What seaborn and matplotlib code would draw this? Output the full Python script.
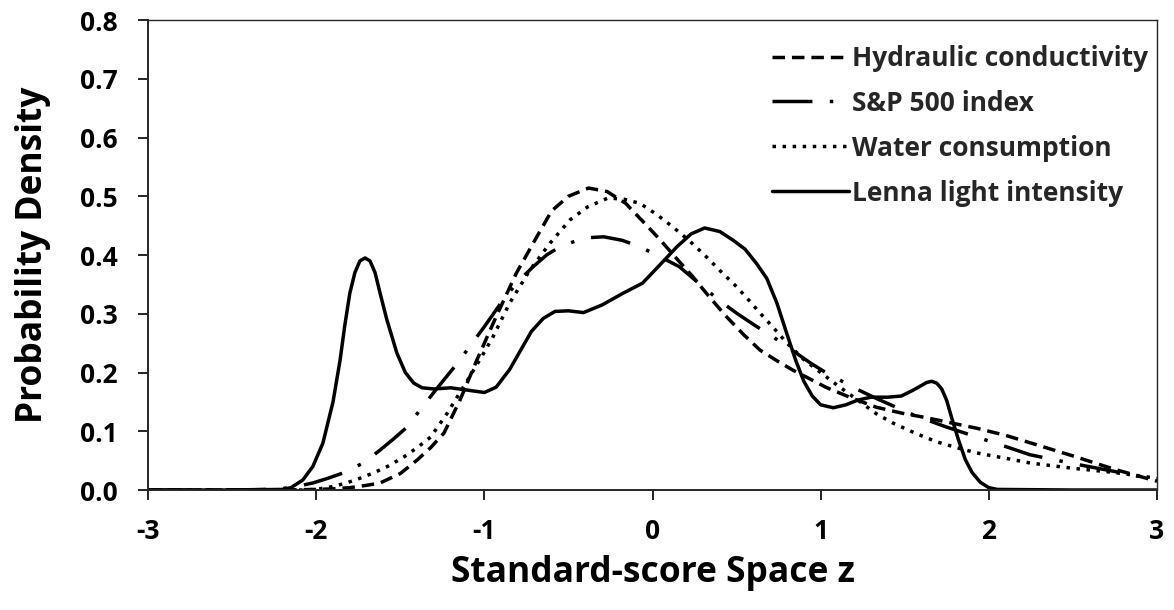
import matplotlib
matplotlib.use("Agg")
import matplotlib.pyplot as plt
import seaborn as sns
import pandas as pd

# ---------------- data ----------------
hyd_z = [-3.0, -2.5, -2.2, -2.0, -1.9, -1.8, -1.7, -1.62, -1.5, -1.4, -1.32, -1.24, -1.145,
         -1.045, -0.93, -0.81, -0.69, -0.6, -0.5, -0.38, -0.27, -0.16, -0.05, 0.045, 0.14,
         0.24, 0.34, 0.44, 0.54, 0.64, 0.74, 0.835, 0.93, 1.03, 1.18, 1.33, 1.48, 1.63,
         1.78, 1.93, 2.1, 2.25, 2.5, 2.75, 3.0]
hyd_p = [0.0, 0.0, 0.0, 0.001, 0.002, 0.004, 0.008, 0.012, 0.028, 0.051, 0.072, 0.097, 0.153,
         0.221, 0.295, 0.369, 0.43, 0.475, 0.5, 0.514, 0.508, 0.488, 0.455, 0.426, 0.395,
         0.363, 0.328, 0.295, 0.265, 0.238, 0.22, 0.204, 0.19, 0.175, 0.157, 0.141, 0.131, 0.123,
         0.114, 0.105, 0.093, 0.08, 0.058, 0.035, 0.015]

sp_z = [-3.0, -2.5, -2.3, -2.21, -2.1, -2.02, -1.93, -1.84, -1.72, -1.62, -1.54, -1.46, -1.383,
        -1.29, -1.16, -1.0, -0.89, -0.8, -0.71, -0.63, -0.55, -0.41, -0.29, -0.18, -0.075,
        0.045, 0.16, 0.3, 0.4, 0.5, 0.61, 0.72, 0.83, 0.94, 1.03, 1.115, 1.22, 1.33, 1.44,
        1.55, 1.74, 1.93, 2.1, 2.245, 2.5, 2.74, 3.0]
sp_p = [0.0, 0.0, 0.001, 0.002, 0.007, 0.012, 0.02, 0.029, 0.046, 0.068, 0.087, 0.107, 0.136,
        0.17, 0.216, 0.278, 0.323, 0.355, 0.38, 0.4, 0.414, 0.429, 0.431, 0.425, 0.414,
        0.397, 0.38, 0.346, 0.322, 0.301, 0.28, 0.26, 0.238, 0.216, 0.2, 0.187, 0.171, 0.156, 0.142,
        0.128, 0.108, 0.09, 0.074, 0.06, 0.045, 0.032, 0.017]

wat_z = [-3.0, -2.5, -2.1, -2.0, -1.9, -1.82, -1.74, -1.66, -1.57, -1.48, -1.4, -1.32, -1.22,
         -1.1, -1.02, -0.95, -0.85, -0.73, -0.61, -0.49, -0.385, -0.265, -0.17, -0.075, 0.02,
         0.12, 0.22, 0.32, 0.41, 0.5, 0.57, 0.64, 0.72, 0.8, 0.9, 1.0, 1.1, 1.235, 1.33, 1.43,
         1.56, 1.69, 1.81, 1.93, 2.1, 2.245, 2.5, 2.74, 3.0]
wat_p = [0.0, 0.0, 0.0, 0.001, 0.006, 0.012, 0.02, 0.029, 0.041, 0.056, 0.072, 0.09, 0.131,
         0.187, 0.225, 0.26, 0.318, 0.374, 0.42, 0.46, 0.482, 0.497, 0.495, 0.488, 0.47,
         0.448, 0.424, 0.397, 0.371, 0.346, 0.324, 0.301, 0.276, 0.25, 0.222, 0.2, 0.178, 0.15, 0.13, 0.114,
         0.097, 0.082, 0.072, 0.063, 0.054, 0.046, 0.037, 0.03, 0.02]

len_z = [-3.0, -2.5, -2.2, -2.15, -2.08, -2.02, -1.96, -1.9, -1.858, -1.83, -1.8, -1.77, -1.74,
         -1.71, -1.68, -1.65, -1.62, -1.58, -1.52, -1.47, -1.42, -1.37, -1.3, -1.2, -1.1, -1.0,
         -0.93, -0.85, -0.78, -0.72, -0.65, -0.58, -0.5, -0.41, -0.3, -0.175, -0.06, 0.05, 0.145,
         0.23, 0.31, 0.4, 0.48, 0.55, 0.62, 0.68, 0.74, 0.8, 0.85, 0.9, 0.95, 1.0, 1.075, 1.15,
         1.22, 1.3, 1.4, 1.48, 1.55, 1.6, 1.63, 1.66, 1.69, 1.72, 1.75, 1.78, 1.82, 1.86, 1.9,
         1.95, 2.0, 2.05, 2.5, 3.0]
len_p = [0.0, 0.0, 0.001, 0.004, 0.017, 0.04, 0.08, 0.15, 0.221, 0.28, 0.335, 0.37, 0.39,
         0.395, 0.39, 0.37, 0.335, 0.29, 0.233, 0.2, 0.182, 0.174, 0.172, 0.174, 0.17, 0.166,
         0.175, 0.205, 0.24, 0.27, 0.292, 0.304, 0.305, 0.302, 0.315, 0.335, 0.352, 0.385, 0.414,
         0.436, 0.446, 0.44, 0.425, 0.41, 0.385, 0.36, 0.318, 0.265, 0.222, 0.185, 0.16, 0.145, 0.14, 0.145,
         0.153, 0.158, 0.158, 0.16, 0.17, 0.178, 0.183, 0.185, 0.182, 0.172, 0.152, 0.122, 0.085, 0.052, 0.03,
         0.013, 0.004, 0.001, 0.0, 0.0]

series_names = ["Hydraulic conductivity", "S&P 500 index", "Water consumption",
                "Lenna light intensity"]
x_ticks = [-3, -2, -1, 0, 1, 2, 3]
y_ticks = [0.0, 0.1, 0.2, 0.3, 0.4, 0.5, 0.6, 0.7, 0.8]

# ---------------- style ----------------
sns.set_style("ticks")
plt.rcParams["font.family"] = ["Open Sans", "DejaVu Sans"]
plt.rcParams["font.weight"] = "bold"
plt.rcParams["axes.unicode_minus"] = False

fig = plt.figure(figsize=(11.74, 6.10), dpi=100)
ax = fig.add_axes([0.1261, 0.1967, 0.8594, 0.7705])

lw = 2.5
styles = [
    (0, (3.6, 2.0)),             # dashed
    (0, (11.5, 5.0, 1.0, 5.0)),  # long dash - dot
    (0, (1.0, 1.9)),             # dotted
    "-",                         # solid
]
data = [(hyd_z, hyd_p), (sp_z, sp_p), (wat_z, wat_p), (len_z, len_p)]
for (zz, pp), name, ls in zip(data, series_names, styles):
    df = pd.DataFrame({"z": zz, "p": pp})
    sns.lineplot(data=df, x="z", y="p", ax=ax, color="black", linewidth=lw,
                 linestyle=ls, label=name, estimator=None, sort=False)

ax.set_xlim(-3, 3)
ax.set_ylim(0, 0.8)
ax.set_xticks(x_ticks)
ax.set_xticklabels([str(t) for t in x_ticks])
ax.set_yticks(y_ticks)
ax.set_yticklabels([f"{t:.1f}" for t in y_ticks])

for s in ["left", "bottom"]:
    ax.spines[s].set_linewidth(1.4)
for s in ["top", "right"]:
    ax.spines[s].set_linewidth(1.0)
    ax.spines[s].set_visible(True)

ax.tick_params(axis="x", direction="out", length=7, width=1.2, pad=13, labelsize=19,
               colors="black")
ax.tick_params(axis="y", direction="out", length=7, width=1.2, pad=15, labelsize=19,
               colors="black")
for lab in ax.get_xticklabels() + ax.get_yticklabels():
    lab.set_fontweight("bold")

ax.set_xlabel("Standard-score Space z", fontsize=25.5, fontweight="bold", labelpad=7,
              color="black")
ax.set_ylabel("Probability Density", fontsize=25.5, fontweight="bold", labelpad=21,
              color="black")

leg = ax.legend(loc="upper right", bbox_to_anchor=(1.007, 0.981), frameon=False,
                prop={"size": 19, "weight": "bold"}, handlelength=2.95,
                handletextpad=0.1, labelspacing=0.68, borderaxespad=0.2)

fig.savefig("out.png", dpi=100, facecolor="white")
